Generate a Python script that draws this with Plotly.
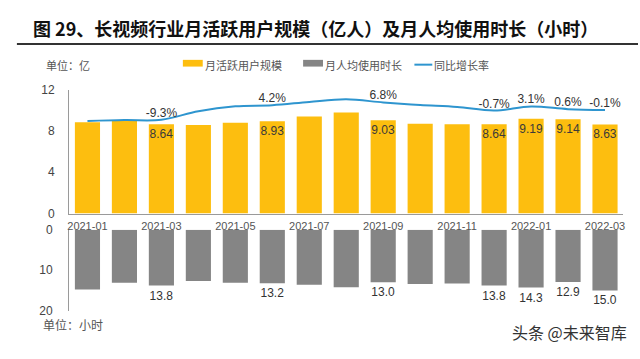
import plotly.graph_objects as go

months = ["2021-01", "2021-02", "2021-03", "2021-04", "2021-05", "2021-06", "2021-07",
          "2021-08", "2021-09", "2021-10", "2021-11", "2021-12", "2022-01", "2022-02", "2022-03"]
mau = [8.85, 9.01, 8.64, 8.58, 8.79, 8.93, 9.41, 9.78, 9.03, 8.70, 8.66, 8.64, 9.19, 9.14, 8.63]
mau_labels = ["", "", "8.64", "", "", "8.93", "", "", "9.03", "", "", "8.64", "9.19", "9.14", "8.63"]
yoy = [-10.5, -9.6, -9.3, -1.3, 3.2, 4.2, 7.3, 9.7, 6.8, 4.4, 2.6, -0.7, 3.1, 0.6, -0.1]
yoy_labels = ["", "", "-9.3%", "", "", "4.2%", "", "", "6.8%", "", "", "-0.7%", "3.1%", "0.6%", "-0.1%"]
hours = [14.8, 13.1, 13.8, 12.7, 13.1, 13.2, 13.6, 14.2, 13.0, 13.4, 13.3, 13.8, 14.3, 12.9, 15.0]
hours_labels = ["", "", "13.8", "", "", "13.2", "", "", "13.0", "", "", "13.8", "14.3", "12.9", "15.0"]
tick_months = months[::2]

W, H = 640, 359
FONT = "Liberation Sans, Noto Sans CJK SC, sans-serif"
CJK = "Noto Sans CJK SC, sans-serif"

def py(px):
    return 1 - px / H

def pxx(px):
    return px / W

fig = go.Figure()

fig.add_trace(go.Bar(
    x=months, y=mau, xaxis="x", yaxis="y",
    marker=dict(color="#FDBE0F", line=dict(width=0)),
    text=mau_labels, textposition="inside", insidetextanchor="end",
    textangle=0, constraintext="none",
    textfont=dict(size=12, color="#3a3a3a", family=FONT),
    showlegend=False, hoverinfo="skip",
))

fig.add_trace(go.Scatter(
    x=months, y=yoy, xaxis="x", yaxis="y2",
    mode="lines+text", line=dict(color="#2E95CF", width=2, shape="spline", smoothing=1.0),
    text=yoy_labels, textposition="top center",
    textfont=dict(size=12, color="#333333", family=FONT),
    showlegend=False, hoverinfo="skip", cliponaxis=False,
))

fig.add_trace(go.Bar(
    x=months, y=hours, xaxis="x2", yaxis="y3",
    marker=dict(color="#858585", line=dict(width=0)),
    text=hours_labels, textposition="outside", textangle=0,
    constraintext="none", cliponaxis=False,
    textfont=dict(size=12, color="#333333", family=FONT),
    showlegend=False, hoverinfo="skip",
))

top_dom = [py(215), py(86)]
bot_dom = [py(316), py(231.7)]
x_dom = [pxx(67.4), pxx(625.4)]

fig.update_layout(
    width=W, height=H,
    margin=dict(l=0, r=0, t=0, b=0),
    paper_bgcolor="white", plot_bgcolor="rgba(0,0,0,0)",
    bargap=0.32,
    font=dict(family=FONT, color="#444"),
    xaxis=dict(domain=x_dom, anchor="y", type="category", range=[-0.5, 14.5],
               tickvals=tick_months, ticktext=tick_months, showline=True,
               linecolor="#9a9a9a", linewidth=1, ticks="", showgrid=False,
               tickfont=dict(size=11, color="#555555", family=FONT), ticklabelstandoff=2),
    yaxis=dict(domain=top_dom, anchor="x", range=[0, 12], tickvals=[0, 4, 8, 12],
               showgrid=False, zeroline=False, showline=True, linecolor="#9a9a9a",
               linewidth=1, ticks="", tickfont=dict(size=12, color="#444444"),
               ticklabelstandoff=11),
    yaxis2=dict(overlaying="y", anchor="x", range=[-96.5, 18.7], visible=False,
                showgrid=False, zeroline=False),
    xaxis2=dict(domain=x_dom, anchor="y3", type="category", range=[-0.5, 14.5],
                showticklabels=False, showline=False, showgrid=False, ticks=""),
    yaxis3=dict(domain=bot_dom, anchor="x2", range=[20, 0], tickvals=[0, 10, 20],
                showgrid=False, zeroline=False, showline=True, linecolor="#9a9a9a",
                linewidth=1, ticks="", tickfont=dict(size=12, color="#444444"),
                ticklabelstandoff=13),
)

annotations = [
    dict(text="<b>图 29、长视频行业月活跃用户规模（亿人）及月人均使用时长（小时）</b>",
         x=pxx(29), y=py(22), xref="paper", yref="paper", xanchor="left", yanchor="middle",
         showarrow=False, font=dict(size=18, color="#111111", family=CJK)),
    dict(text="单位：亿", x=pxx(42), y=py(60), xref="paper", yref="paper",
         xanchor="left", yanchor="middle", showarrow=False,
         font=dict(size=11, color="#555555", family=CJK)),
    dict(text="月活跃用户规模", x=pxx(202), y=py(60), xref="paper", yref="paper",
         xanchor="left", yanchor="middle", showarrow=False,
         font=dict(size=11, color="#555555", family=CJK)),
    dict(text="月人均使用时长", x=pxx(323), y=py(60), xref="paper", yref="paper",
         xanchor="left", yanchor="middle", showarrow=False,
         font=dict(size=11, color="#555555", family=CJK)),
    dict(text="同比增长率", x=pxx(433), y=py(60), xref="paper", yref="paper",
         xanchor="left", yanchor="middle", showarrow=False,
         font=dict(size=11, color="#555555", family=CJK)),
    dict(text="单位：小时", x=pxx(39), y=py(330), xref="paper", yref="paper",
         xanchor="left", yanchor="middle", showarrow=False,
         font=dict(size=12, color="#555555", family=CJK)),
    dict(text="头条 @未来智库", x=pxx(631), y=py(338), xref="paper", yref="paper",
         xanchor="right", yanchor="middle", showarrow=False,
         font=dict(size=16, color="#333333", family=CJK)),
]

shapes = [
    dict(type="line", xref="paper", yref="paper", x0=pxx(15), x1=1.0, y0=py(38.5), y1=py(38.5),
         line=dict(color="#333333", width=2)),
    dict(type="rect", xref="paper", yref="paper", x0=pxx(182), x1=pxx(202), y0=py(62), y1=py(55),
         fillcolor="#FDBE0F", line=dict(width=0)),
    dict(type="rect", xref="paper", yref="paper", x0=pxx(303), x1=pxx(323), y0=py(62), y1=py(55),
         fillcolor="#858585", line=dict(width=0)),
    dict(type="line", xref="paper", yref="paper", x0=pxx(415), x1=pxx(433), y0=py(60), y1=py(60),
         line=dict(color="#2E95CF", width=2)),
]

fig.update_layout(annotations=annotations, shapes=shapes)
fig.write_html("out.html", config={"displayModeBar": False},
               post_script="document.body.style.margin='0px';document.body.style.overflow='hidden';")
